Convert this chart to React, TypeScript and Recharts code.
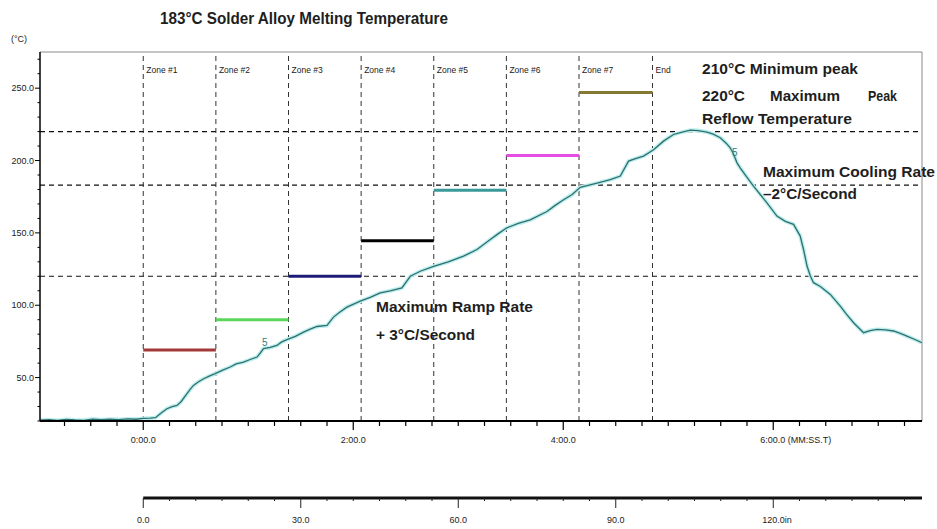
import React from 'react';
import { ComposedChart, Line, XAxis, YAxis, ReferenceLine } from 'recharts';

// ---- data ----
const timeSec = [
  -59, -54, -49, -44, -39, -34, -29, -24, -19, -14, -9, -4, 0, 4, 7,
  9.7, 13.5, 16.6, 19.3, 21.7, 25, 26.9, 28.7, 31.4, 34.5, 37.7, 41.1, 45.1, 49.7, 53.1,
  57.3, 61.1, 65, 66.9, 68.7, 72.6, 76.4, 78.9, 82.1, 86.9, 91.6, 95.4, 99.3, 105, 108.7,
  112.6, 116.4, 124, 129.7, 135.4, 141.1, 147.8, 152.6, 158.3, 165.9, 174.3, 183, 190.7, 198.3, 202.9,
  207.8, 214.3, 221.1, 230.7, 235.4, 240.2, 245.1, 249.7, 259.3, 266.9, 272.6, 277.3, 281.7, 285.9, 291.6,
  297.3, 303, 307.4, 312.6, 317.1, 322.1, 325.7, 329.7, 333.1, 335.4, 337.1, 339.3, 341.1, 344.6, 348.7,
  356.4, 362.1, 366.9, 371.6, 375.4, 377.4, 379.3, 381.1, 383, 386.9, 392.6, 398.3, 401.7, 405.9, 411.6,
  415.4, 419.3, 424, 428.7, 432.6, 436.4, 440.6, 445,
];
const tempC = [
  20.6, 20.9, 20.4, 21.1, 20.7, 20.5, 21.3, 20.9, 21.2, 21.0, 21.4, 21.2, 21.8, 22.0, 22.3,
  25, 28.5, 30, 30.8, 33.5, 38.9, 42, 44.6, 47, 49.2, 51, 52.7, 55, 57.3, 59.5,
  60.7, 62.5, 64.2, 67, 70, 70.8, 72.2, 74.5, 76.2, 78.5, 81.4, 83.5, 85.3, 86, 91.8,
  95.5, 98.7, 102.8, 105.5, 108.6, 110, 112, 120, 123.5, 126.9, 130, 133.9, 138.5, 145.4, 149.5,
  153.5, 156.5, 159, 164.8, 169, 172.9, 176.5, 181.5, 184.4, 186.8, 189.3, 199.6, 201.5, 203.1, 207.5,
  213.4, 218, 219.5, 221, 220.7, 219.7, 218.2, 215.8, 212, 208.8, 205, 198.4, 195, 189, 182.3,
  170.8, 161.6, 158, 155.9, 147.8, 138, 127.1, 120.5, 115.6, 113, 107.5, 99.4, 94, 87.9, 81,
  82.5, 83.3, 83, 82.2, 80.5, 78.7, 76.5, 74.1,
];

const zoneNames = ['Zone #1', 'Zone #2', 'Zone #3', 'Zone #4', 'Zone #5', 'Zone #6', 'Zone #7', 'End'];
const zoneStarts = [0, 41.5, 83, 124.5, 166, 207.5, 249, 291];
const zoneSetpoints = [69, 90, 120, 144.5, 179.5, 203.5, 247];
const zoneColors = ['#a33838', '#5ad65a', '#1c1c78', '#000000', '#3a9a9a', '#e64ce6', '#857a32'];
const limitTemps = [220, 183, 120];

const timeMajorTicks = [0, 120, 240, 360];
const timeTickLabels = ['0:00.0', '2:00.0', '4:00.0', '6:00.0 (MM:SS.T)'];
const distMajorTicks = [0, 30, 60, 90, 120];
const distTickLabels = ['0.0', '30.0', '60.0', '90.0', '120.0in'];
const tempMajorTicks = [50, 100, 150, 200, 250];
const tempTickLabels = ['50.0', '100.0', '150.0', '200.0', '250.0'];

const data = timeSec.map((t, i) => ({ t, d: t / 3, T: tempC[i] }));

const timeTicks: number[] = [];
for (let v = -45; v <= 435; v += 15) timeTicks.push(v);
const distTicks: number[] = [];
for (let v = 0; v <= 145; v += 5) distTicks.push(v);
const tempTicks: number[] = [];
for (let v = 20; v <= 270; v += 10) tempTicks.push(v);

const X_MIN = -59;
const X_MAX = 445;

const FONT_NARROW = "'Liberation Sans Narrow','Arial Narrow','Liberation Sans',Arial,sans-serif";
const FONT_BOLD = "'Liberation Sans',Arial,sans-serif";

function TimeTick(props: any) {
  const { x, y, payload } = props;
  const idx = timeMajorTicks.indexOf(payload.value);
  const major = idx >= 0;
  const last = idx === timeMajorTicks.length - 1;
  return (
    <g>
      <line x1={x} x2={x} y1={y} y2={y + (major ? 9 : 5)} stroke="#000" strokeWidth={1.2} />
      {major && (
        <text
          x={last ? x - 13 : x}
          y={y + 22}
          textAnchor={last ? 'start' : 'middle'}
          fontSize={9}
          fontFamily={FONT_NARROW}
          fill="#222"
        >
          {timeTickLabels[idx]}
        </text>
      )}
    </g>
  );
}

function DistTick(props: any) {
  const { x, y, payload } = props;
  const idx = distMajorTicks.indexOf(payload.value);
  const major = idx >= 0;
  const last = idx === distMajorTicks.length - 1;
  return (
    <g>
      <line x1={x} x2={x} y1={y} y2={y + (major ? 10 : 3)} stroke="#222" strokeWidth={1} />
      {major && (
        <text
          x={last ? x - 11 : x}
          y={y + 25}
          textAnchor={last ? 'start' : 'middle'}
          fontSize={9}
          fontFamily={FONT_NARROW}
          fill="#222"
        >
          {distTickLabels[idx]}
        </text>
      )}
    </g>
  );
}

function TempTick(props: any) {
  const { x, y, payload } = props;
  const idx = tempMajorTicks.indexOf(payload.value);
  const major = idx >= 0;
  return (
    <g>
      <line x1={x} x2={x - (major ? 5 : 2.5)} y1={y} y2={y} stroke="#000" strokeWidth={1} />
      {major && (
        <text x={x - 6} y={y + 3} textAnchor="end" fontSize={9} fontFamily={FONT_NARROW} fill="#222">
          {tempTickLabels[idx]}
        </text>
      )}
    </g>
  );
}

const zoneLabel = (name: string) => (props: any) => {
  const vb = props.viewBox || { x: 0, y: 0 };
  return (
    <text x={vb.x + 3} y={vb.y + 21} fontSize={8.5} fontFamily={FONT_NARROW} fill="#222">
      {name}
    </text>
  );
};

function Ann(props: { x: number; y: number; w: number; size?: number; children: string; fill?: string }) {
  return (
    <text
      x={props.x}
      y={props.y}
      fontSize={props.size ?? 14.5}
      fontWeight="bold"
      fontFamily={FONT_BOLD}
      fill={props.fill ?? '#1e1e1e'}
      textLength={props.w}
      lengthAdjust="spacingAndGlyphs"
    >
      {props.children}
    </text>
  );
}

export default function App() {
  return (
    <div style={{ position: 'absolute', left: 0, top: 0, width: 937, height: 529, background: '#fff' }}>
      <ComposedChart
        width={937}
        height={529}
        data={data}
        margin={{ top: 52, right: 15, left: 0, bottom: 0 }}
      >
        <XAxis
          xAxisId="a_time"
          dataKey="t"
          type="number"
          domain={[X_MIN, X_MAX]}
          allowDataOverflow
          ticks={timeTicks}
          interval={0}
          tick={<TimeTick />}
          tickLine={false}
          tickSize={0}
          tickMargin={0}
          axisLine={{ stroke: '#000', strokeWidth: 2 }}
          height={77}
        />
        <XAxis
          xAxisId="b_dist"
          dataKey="d"
          type="number"
          domain={[X_MIN / 3, X_MAX / 3]}
          allowDataOverflow
          ticks={distTicks}
          interval={0}
          tick={<DistTick />}
          tickLine={false}
          tickSize={0}
          tickMargin={0}
          axisLine={false}
          height={31}
        />
        <YAxis
          type="number"
          domain={[20, 275]}
          allowDataOverflow
          ticks={tempTicks}
          interval={0}
          tick={<TempTick />}
          tickLine={false}
          tickSize={0}
          tickMargin={0}
          axisLine={{ stroke: '#000', strokeWidth: 1.5 }}
          width={40}
        />

        {/* frame */}
        <ReferenceLine xAxisId="a_time" y={275} stroke="#8a8a8a" strokeWidth={1} />
        <ReferenceLine xAxisId="a_time" x={X_MAX} stroke="#8a8a8a" strokeWidth={1} />

        {/* limit temperature lines */}
        {limitTemps.map((v) => (
          <ReferenceLine key={'lim' + v} xAxisId="a_time" y={v} stroke="#111" strokeWidth={1.1} strokeDasharray="5 4" />
        ))}

        {/* zone boundaries */}
        {zoneStarts.map((s, i) => (
          <ReferenceLine
            key={'zb' + i}
            xAxisId="a_time"
            x={s}
            stroke="#333"
            strokeWidth={1}
            strokeDasharray="5 4"
            label={zoneLabel(zoneNames[i])}
          />
        ))}

        {/* zone set points */}
        {zoneSetpoints.map((v, i) => (
          <ReferenceLine
            key={'zs' + i}
            xAxisId="a_time"
            segment={[
              { x: zoneStarts[i], y: v },
              { x: zoneStarts[i + 1], y: v },
            ]}
            stroke={zoneColors[i]}
            strokeWidth={3}
          />
        ))}

        {/* distance axis line */}
        <ReferenceLine
          xAxisId="b_dist"
          ifOverflow="visible"
          segment={[
            { x: 0, y: -33.2 },
            { x: X_MAX / 3, y: -33.2 },
          ]}
          stroke="#111"
          strokeWidth={3}
        />

        <Line
          xAxisId="b_dist"
          dataKey="T"
          stroke="none"
          dot={false}
          activeDot={false}
          isAnimationActive={false}
          legendType="none"
        />
        <Line
          xAxisId="a_time"
          dataKey="T"
          type="linear"
          stroke="#bdeeee"
          strokeWidth={4}
          dot={false}
          activeDot={false}
          isAnimationActive={false}
        />
        <Line
          xAxisId="a_time"
          dataKey="T"
          type="linear"
          stroke="#2f6f6f"
          strokeWidth={1.3}
          dot={false}
          activeDot={false}
          isAnimationActive={false}
        />
      </ComposedChart>

      <svg
        width={937}
        height={529}
        style={{ position: 'absolute', left: 0, top: 0, pointerEvents: 'none' }}
      >
        <Ann x={160} y={24} w={288} size={17}>183°C Solder Alloy Melting Temperature</Ann>
        <text x={11} y={42} fontSize={9} fontFamily={FONT_NARROW} fill="#222">(°C)</text>

        <Ann x={702} y={74} w={156}>210°C Minimum peak</Ann>
        <Ann x={702} y={101} w={43}>220°C</Ann>
        <Ann x={770} y={101} w={70}>Maximum</Ann>
        <Ann x={868} y={101} w={29}>Peak</Ann>
        <Ann x={702} y={124} w={150}>Reflow Temperature</Ann>
        <Ann x={763} y={177} w={172}>Maximum Cooling Rate</Ann>
        <Ann x={763} y={199} w={94}>–2°C/Second</Ann>
        <Ann x={376} y={312} w={157}>Maximum Ramp Rate</Ann>
        <Ann x={376} y={340} w={99}>+ 3°C/Second</Ann>

        <text x={262} y={346} fontSize={10} fontFamily={FONT_NARROW} fill="#2f7f7f">5</text>
        <text x={732} y={156} fontSize={10} fontFamily={FONT_NARROW} fill="#2f7f7f">5</text>
      </svg>
    </div>
  );
}
